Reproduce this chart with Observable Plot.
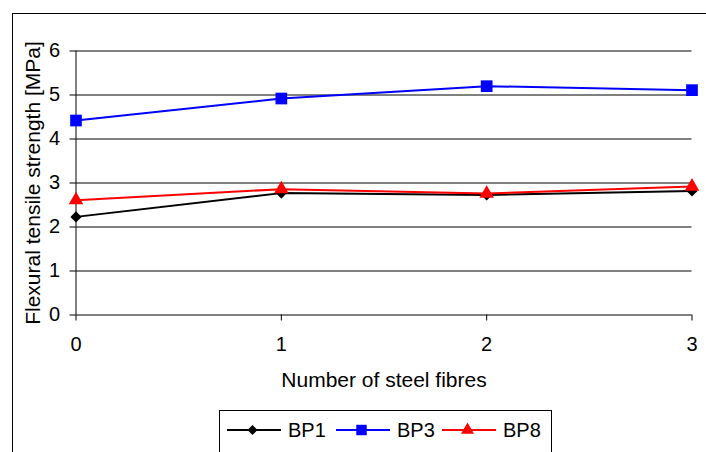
<!DOCTYPE html>
<html>
<head>
<meta charset="utf-8">
<script src="https://cdn.jsdelivr.net/npm/d3@7"></script>
<script src="https://cdn.jsdelivr.net/npm/@observablehq/plot@0.6"></script>
<style>
  html, body { margin: 0; padding: 0; background: #fff; }
  #wrap { position: relative; width: 706px; height: 452px; overflow: hidden; font-family: "Liberation Sans", Arial, sans-serif; }
  #frame { position: absolute; left: 12px; top: 13px; width: 900px; height: 600px; border: 1px solid #000; box-sizing: border-box; }
  #chart { position: absolute; left: 0; top: 0; }
  #legend { position: absolute; left: 219px; top: 410px; width: 333px; height: 80px; border: 1px solid #000; box-sizing: border-box; background: #fff; }
</style>
</head>
<body>
<div id="wrap">
  <div id="frame"></div>
  <div id="chart"></div>
  <div id="legend"></div>
</div>
<script>
// Number of steel fibres on the x axis
const fibres = [0, 1, 2, 3];
// Flexural tensile strength [MPa] for each mix
const bp1 = [2.23, 2.77, 2.73, 2.82];
const bp3 = [4.42, 4.92, 5.20, 5.11];
const bp8 = [2.61, 2.86, 2.76, 2.92];
const yTicks = [0, 1, 2, 3, 4, 5, 6];

const series = [
  {name: "BP1", values: bp1, color: "#000000", symbol: "diamond2", r: 5.0},
  {name: "BP3", values: bp3, color: "#0000ff", symbol: "square", r: 6.6},
  {name: "BP8", values: bp8, color: "#ff0000", symbol: "triangle", r: 5.4}
];

const rows = series.flatMap(s => fibres.map((f, i) => ({series: s.name, fibres: f, value: s.values[i]})));
const font = "Liberation Sans, Arial, sans-serif";

const marks = [
  // horizontal gridlines
  Plot.ruleY(yTicks.filter(t => t > 0), {x1: 0, x2: 3, stroke: "#000", strokeWidth: 1}),
  // axes
  Plot.ruleY([0], {x1: 0, x2: 3, stroke: "#000", strokeWidth: 1}),
  Plot.ruleX([0], {y1: 0, y2: 6, stroke: "#000", strokeWidth: 1}),
  Plot.axisY({ticks: yTicks, tickSize: 6, tickPadding: 10, label: null, fontSize: 20, tickFormat: d3.format("d")}),
  Plot.axisX({ticks: fibres, tickSize: 6, tickPadding: 16, label: null, fontSize: 20, tickFormat: d3.format("d")}),
  // axis titles
  Plot.text(["Flexural tensile strength [MPa]"], {frameAnchor: "left", textAnchor: "middle", dx: -43, rotate: -90, fontSize: 21, fill: "#000"}),
  Plot.text(["Number of steel fibres"], {frameAnchor: "bottom", dy: 72, fontSize: 21, fill: "#000"})
];

for (const s of series) {
  const data = rows.filter(d => d.series === s.name);
  marks.push(Plot.line(data, {x: "fibres", y: "value", stroke: s.color, strokeWidth: 2}));
  marks.push(Plot.dot(data, {x: "fibres", y: "value", symbol: () => s.symbol, fill: s.color, stroke: "none", r: s.r}));
}

const chart = Plot.plot({
  width: 706,
  height: 452,
  marginLeft: 75.5,
  marginRight: 14.5,
  marginTop: 50.5,
  marginBottom: 137.5,
  style: {fontFamily: font, color: "#000", background: "transparent", overflow: "visible"},
  x: {domain: [0, 3]},
  y: {domain: [0, 6]},
  symbol: {type: "identity"},
  marks
});
document.getElementById("chart").appendChild(chart);

// legend: line swatch with its marker, then the series name
const legend = d3.select("#legend").append("svg")
  .attr("width", 331).attr("height", 78)
  .style("font-family", font);
const itemX = [7, 116, 222];
series.forEach((s, i) => {
  const g = legend.append("g").attr("transform", `translate(${itemX[i]},19)`);
  g.append("line").attr("x1", 0).attr("x2", 54).attr("y1", 0).attr("y2", 0)
    .attr("stroke", s.color).attr("stroke-width", 2);
  const sym = s.symbol === "diamond2" ? d3.symbolDiamond2 : s.symbol === "square" ? d3.symbolSquare : d3.symbolTriangle;
  g.append("path").attr("transform", "translate(25.5,0)")
    .attr("d", d3.symbol(sym, Math.PI * s.r * s.r * 0.8)()).attr("fill", s.color);
  g.append("text").attr("x", 61).attr("y", 0).attr("dy", "0.36em")
    .attr("font-size", 20).attr("fill", "#000").text(s.name);
});
</script>
</body>
</html>
